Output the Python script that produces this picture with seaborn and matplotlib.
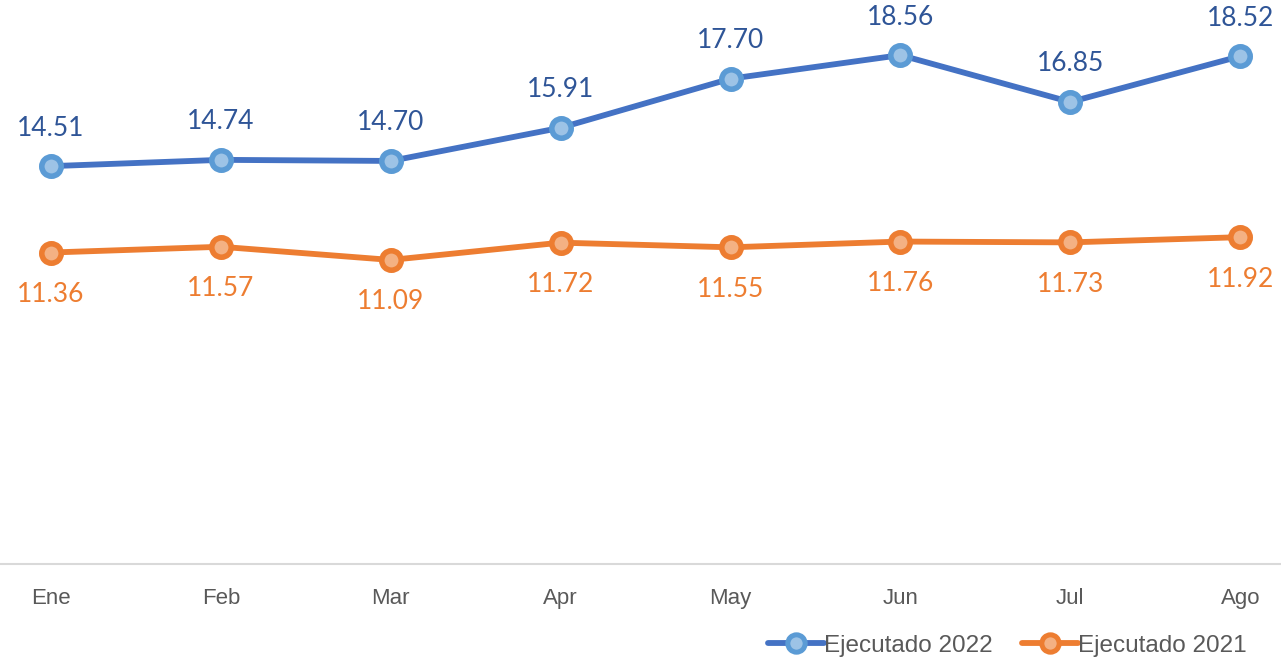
import matplotlib
matplotlib.use("Agg")
import matplotlib.pyplot as plt
import seaborn as sns
import pandas as pd
from matplotlib.lines import Line2D

months = ["Ene", "Feb", "Mar", "Apr", "May", "Jun", "Jul", "Ago"]
ejecutado_2022 = [14.51, 14.74, 14.70, 15.91, 17.70, 18.56, 16.85, 18.52]
ejecutado_2021 = [11.36, 11.57, 11.09, 11.72, 11.55, 11.76, 11.73, 11.92]

sns.set_theme(style="white")
plt.rcParams["font.family"] = ["Liberation Sans", "DejaVu Sans"]

series = {
    "Ejecutado 2022": dict(values=ejecutado_2022, line="#4472C4", edge="#5B9BD5",
                           face="#9DC3E6", text="#2F5597", offset=38),
    "Ejecutado 2021": dict(values=ejecutado_2021, line="#ED7D31", edge="#ED7D31",
                           face="#F4B183", text="#ED7D31", offset=-42),
}

fig = plt.figure(figsize=(12.81, 6.62), dpi=100)
ax = fig.add_axes([0, 98 / 662, 1, 1 - 98 / 662])

handles = []
for name, s in series.items():
    df = pd.DataFrame({"x": range(len(months)), "y": s["values"]})
    sns.lineplot(data=df, x="x", y="y", ax=ax, color=s["line"], linewidth=4.2,
                 marker="o", markersize=14, markerfacecolor=s["face"],
                 markeredgecolor=s["edge"], markeredgewidth=4, zorder=3)
    for i, v in enumerate(s["values"]):
        ax.annotate(f"{v:.2f}", (i, v), xytext=(0, s["offset"] * 0.72),
                    textcoords="offset points", ha="center", va="center",
                    fontsize=19, color=s["text"], family=["Lato", "DejaVu Sans"])
    handles.append(Line2D([0], [0], color=s["line"], linewidth=4.2, marker="o",
                          markersize=12.5, markerfacecolor=s["face"],
                          markeredgecolor=s["edge"], markeredgewidth=3.6))

ax.set_ylim(0, 20.57)
ax.set_xlim(-0.30, 7.24)
ax.set_yticks([])
ax.set_xticks(range(len(months)))
ax.set_xticklabels(months, fontsize=16, color="#595959")
ax.tick_params(axis="x", length=0, pad=17)
ax.set_xlabel("")
ax.set_ylabel("")
for side in ["top", "left", "right"]:
    ax.spines[side].set_visible(False)
ax.spines["bottom"].set_color("#D9D9D9")
ax.spines["bottom"].set_linewidth(1.5)

fig.legend(handles, list(series.keys()), loc="lower right", ncol=2,
           bbox_to_anchor=(0.99, -0.025), frameon=False, fontsize=17.5,
           labelcolor="#595959", handlelength=2.3, handletextpad=0.0,
           columnspacing=1.2)

fig.savefig("out.png", dpi=100, facecolor="white")
